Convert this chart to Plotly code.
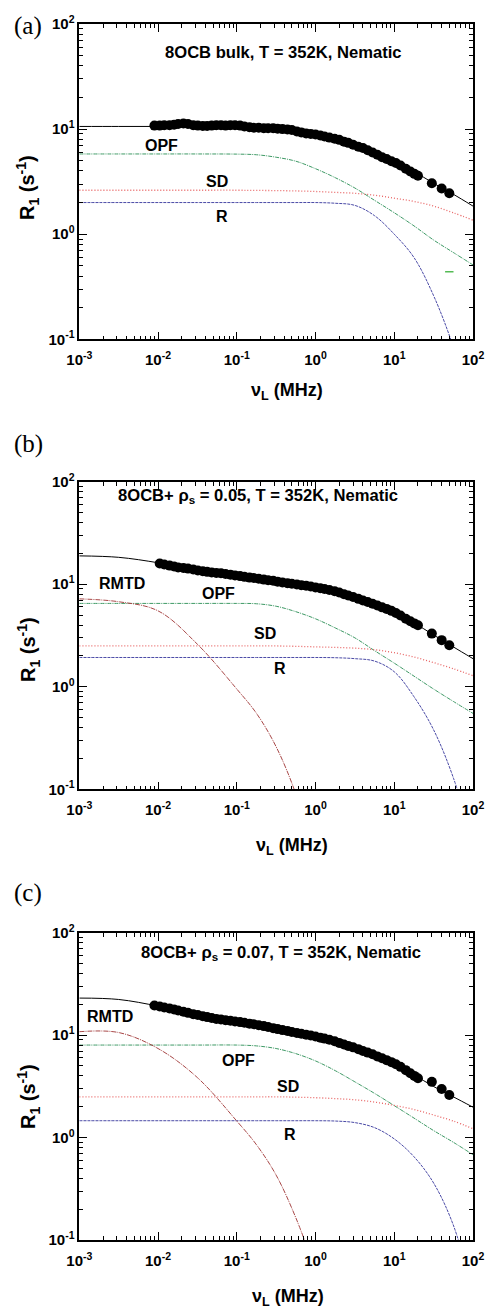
import plotly.graph_objects as go

W, H = 486, 1311

# ---------------- data ----------------
freq_dense = [0.009, 0.0105, 0.012, 0.014, 0.016, 0.018, 0.021, 0.024, 0.028, 0.032,
              0.037, 0.042, 0.048, 0.055, 0.063, 0.072, 0.083, 0.095, 0.11, 0.125,
              0.145, 0.165, 0.19, 0.22, 0.25, 0.29, 0.33, 0.38, 0.44, 0.5,
              0.58, 0.66, 0.76, 0.87, 1.0, 1.15, 1.3, 1.5, 1.75, 2.0,
              2.3, 2.6, 3.0, 3.5, 4.0, 4.6, 5.3, 6.1, 7.0, 8.0,
              9.2, 10.5, 12, 14, 16, 18, 20, 30, 40, 50]

r1_a = [10.8, 10.8, 10.9, 10.9, 11.0, 11.2, 11.3, 11.2, 10.9, 10.8,
        10.7, 10.7, 10.8, 10.9, 10.9, 10.8, 10.9, 10.9, 10.8, 10.6,
        10.4, 10.3, 10.3, 10.2, 10.2, 10.2, 10.1, 10.0, 9.9, 9.8,
        9.5, 9.3, 9.1, 9.0, 8.9, 8.7, 8.5, 8.3, 8.1, 7.9,
        7.6, 7.4, 7.1, 6.8, 6.6, 6.3, 6.0, 5.7, 5.4, 5.2,
        4.95, 4.75, 4.5, 4.2, 3.95, 3.75, 3.6, 3.05, 2.72, 2.45]

freq_b = freq_dense[1:]
r1_b = [15.9, 15.6, 15.2, 14.9, 14.6, 14.4, 14.2, 13.9, 13.6,
        13.4, 13.2, 13.0, 12.9, 12.8, 12.6, 12.4, 12.2, 12.0, 11.8,
        11.6, 11.5, 11.3, 11.1, 10.95, 10.8, 10.6, 10.4, 10.25, 10.1,
        9.95, 9.8, 9.65, 9.5, 9.3, 9.15, 9.0, 8.8, 8.55, 8.3,
        8.0, 7.75, 7.5, 7.2, 6.95, 6.7, 6.45, 6.2, 5.95, 5.75,
        5.5, 5.25, 4.95, 4.6, 4.35, 4.15, 3.98, 3.3, 2.85, 2.54]

r1_c = [19.5, 19.0, 18.6, 18.2, 17.8, 17.4, 16.9, 16.5, 16.0, 15.7,
        15.3, 15.0, 14.7, 14.4, 14.2, 14.0, 13.8, 13.6, 13.4, 13.2,
        12.95, 12.75, 12.5, 12.25, 12.0, 11.7, 11.45, 11.2, 11.0, 10.75,
        10.5, 10.3, 10.1, 9.9, 9.7, 9.45, 9.25, 9.0, 8.7, 8.4,
        8.1, 7.85, 7.6, 7.3, 7.0, 6.75, 6.5, 6.2, 5.95, 5.7,
        5.45, 5.2, 4.9, 4.55, 4.25, 4.0, 3.8, 3.5, 2.98, 2.6]

# model curves, values read at these frequencies
curve_freq = [0.001, 0.00316, 0.01, 0.0316, 0.1, 0.178, 0.316, 0.562, 1,
              1.78, 3.16, 5.62, 10, 17.8, 31.6, 56.2, 100]

fit_a = [10.6, 10.6, 10.6, 10.55, 10.45, 10.3, 10.0, 9.5, 8.8, 8.0, 7.0, 5.9, 4.95, 3.95, 3.05, 2.4, 1.85]
opf_a = [5.8, 5.8, 5.8, 5.8, 5.78, 5.7, 5.4, 4.95, 4.2, 3.45, 2.75, 2.1, 1.6, 1.2, 0.88, 0.67, 0.51]
sd_a = [2.62, 2.62, 2.62, 2.62, 2.62, 2.61, 2.6, 2.58, 2.55, 2.5, 2.45, 2.35, 2.2, 2.05, 1.85, 1.6, 1.36]
r_a = [2.0, 2.0, 2.0, 2.0, 2.0, 2.0, 2.0, 2.0, 2.0, 1.97, 1.88, 1.5, 1.0, 0.6, 0.26, 0.085, 0.02]

fit_b = [18.9, 18.3, 16.2, 13.7, 12.2, 11.4, 10.7, 10.0, 9.3, 8.5, 7.4, 6.3, 5.3, 4.2, 3.2, 2.45, 1.88]
rmtd_b = [7.2, 6.75, 5.5, 2.6, 0.95, 0.55, 0.26, 0.09, 0.02]
opf_b = [6.5, 6.5, 6.5, 6.5, 6.5, 6.45, 6.1, 5.4, 4.6, 3.75, 3.0, 2.25, 1.7, 1.27, 0.95, 0.72, 0.55]
sd_b = [2.5, 2.5, 2.5, 2.5, 2.5, 2.5, 2.5, 2.48, 2.45, 2.42, 2.38, 2.3, 2.15, 1.95, 1.72, 1.5, 1.28]
r_b = [1.93, 1.93, 1.93, 1.93, 1.93, 1.93, 1.93, 1.93, 1.93, 1.92, 1.88, 1.78, 1.4, 0.8, 0.38, 0.13, 0.03]

fit_c = [23.0, 22.3, 19.2, 15.8, 13.5, 12.6, 11.6, 10.6, 9.7, 8.7, 7.5, 6.4, 5.3, 4.1, 3.15, 2.5, 1.98]
rmtd_c = [10.8, 10.6, 7.4, 3.85, 1.45, 0.85, 0.43, 0.165, 0.05]
opf_c = [8.0, 8.0, 8.0, 8.0, 8.0, 7.85, 7.4, 6.6, 5.6, 4.5, 3.5, 2.7, 2.05, 1.55, 1.17, 0.9, 0.68]
sd_c = [2.5, 2.5, 2.5, 2.5, 2.5, 2.5, 2.5, 2.48, 2.45, 2.4, 2.34, 2.22, 2.06, 1.88, 1.66, 1.45, 1.22]
r_c = [1.46, 1.46, 1.46, 1.46, 1.46, 1.46, 1.46, 1.46, 1.46, 1.45, 1.4, 1.25, 0.97, 0.65, 0.36, 0.14, 0.03]

stray_x = [50]
stray_y = [0.44]

titles = ["8OCB bulk, T = 352K, Nematic",
          "8OCB+ ρ<sub>s</sub> = 0.05, T = 352K, Nematic",
          "8OCB+ ρ<sub>s</sub> = 0.07, T = 352K, Nematic"]
panel_tags = ["(a)", "(b)", "(c)"]
x_ticks = [1e-3, 1e-2, 1e-1, 1e0, 1e1, 1e2]
x_ticktext = ["10<sup>-3</sup>", "10<sup>-2</sup>", "10<sup>-1</sup>", "10<sup>0</sup>", "10<sup>1</sup>", "10<sup>2</sup>"]
y_ticks = [1e-1, 1e0, 1e1, 1e2]
y_ticktext = ["10<sup>-1</sup>", "10<sup>0</sup>", "10<sup>1</sup>", "10<sup>2</sup>"]

# ---------------- layout geometry (pixels) ----------------
X_L, X_R = 79.3, 473.0
panel_box = [(24.0, 339.3), (481.7, 789.3), (932.7, 1240.0)]


def px(x):
    return x / W


def py(y):
    return 1 - y / H


C_OPF = "#3f9a66"
C_SD = "#e86464"
C_R = "#4a4aa6"
C_RMTD = "#a84848"

fig = go.Figure()

panels = [
    dict(f=freq_dense, r=r1_a, fit=fit_a, opf=opf_a, sd=sd_a, rr=r_a, rmtd=None),
    dict(f=freq_b, r=r1_b, fit=fit_b, opf=opf_b, sd=sd_b, rr=r_b, rmtd=rmtd_b),
    dict(f=freq_dense, r=r1_c, fit=fit_c, opf=opf_c, sd=sd_c, rr=r_c, rmtd=rmtd_c),
]

for i, p in enumerate(panels):
    xa = "x" if i == 0 else f"x{i+1}"
    ya = "y" if i == 0 else f"y{i+1}"
    kw = dict(xaxis=xa, yaxis=ya, showlegend=False, hoverinfo="skip")
    fig.add_trace(go.Scatter(x=curve_freq, y=p["opf"], mode="lines", line=dict(color=C_OPF, width=1, dash="4px,1px,1px,1px", shape="spline"), **kw))
    fig.add_trace(go.Scatter(x=curve_freq, y=p["sd"], mode="lines", line=dict(color=C_SD, width=1.3, dash="1px,2px", shape="spline"), **kw))
    fig.add_trace(go.Scatter(x=curve_freq, y=p["rr"], mode="lines", line=dict(color=C_R, width=1, dash="3px,1px", shape="spline"), **kw))
    if p["rmtd"] is not None:
        fig.add_trace(go.Scatter(x=curve_freq[:len(p["rmtd"])], y=p["rmtd"], mode="lines", line=dict(color=C_RMTD, width=1, dash="5px,1px,1px,1px", shape="spline"), **kw))
    fig.add_trace(go.Scatter(x=curve_freq, y=p["fit"], mode="lines", line=dict(color="black", width=1, shape="spline"), **kw))
    fig.add_trace(go.Scatter(x=p["f"], y=p["r"], mode="markers", marker=dict(color="black", size=10, line=dict(width=0)), **kw))
    if i == 0:
        fig.add_trace(go.Scatter(x=stray_x, y=stray_y, mode="markers", marker=dict(symbol="line-ew", size=6, line=dict(color="#55bb55", width=1.5)), **kw))

minor_x = [m * 10 ** e for e in range(-3, 2) for m in range(2, 10)]
minor_y = [m * 10 ** e for e in range(-1, 2) for m in range(2, 10)]

tickfont = dict(family="Liberation Sans", size=15, color="black", weight="bold")

for i, (top, bot) in enumerate(panel_box):
    sx = "" if i == 0 else str(i + 1)
    fig.layout[f"xaxis{sx}"] = dict(
        type="log", range=[-3, 2], domain=[px(X_L), px(X_R)], anchor=f"y{sx}",
        tickvals=x_ticks, ticktext=x_ticktext, ticks="inside", ticklen=8, tickwidth=1.3,
        tickcolor="black", showline=True, linecolor="black", linewidth=1.6, mirror="allticks",
        showgrid=False, zeroline=False, tickfont=tickfont, automargin=False, ticklabelstandoff=6,
        minor=dict(tickvals=minor_x, ticks="inside", ticklen=4, tickwidth=1, tickcolor="black", showgrid=False),
    )
    fig.layout[f"yaxis{sx}"] = dict(
        type="log", range=[-1, 2], domain=[py(bot), py(top)], anchor=f"x{sx}",
        tickvals=y_ticks, ticktext=y_ticktext, ticks="inside", ticklen=8, tickwidth=1.3,
        tickcolor="black", showline=True, linecolor="black", linewidth=1.6, mirror="allticks",
        showgrid=False, zeroline=False, tickfont=tickfont, automargin=False,
        minor=dict(tickvals=minor_y, ticks="inside", ticklen=4, tickwidth=1, tickcolor="black", showgrid=False),
    )

ann = []
bold = dict(family="Liberation Sans", size=16, color="black", weight="bold")
title_font = dict(family="Liberation Sans", size=16.6, color="black", weight="bold")


def add_text(text, x, y, font, **extra):
    ann.append(dict(text=text, x=px(x), y=py(y), xref="paper", yref="paper", showarrow=False,
                    xanchor="center", yanchor="middle", font=font, **extra))


# in-plot titles
add_text(titles[0], 283, 53, title_font)
add_text(titles[1], 258, 496, title_font)
add_text(titles[2], 281, 953, title_font)

# curve labels
labels = [
    [("OPF", 161.7, 145.7), ("SD", 216.7, 181.7), ("R", 222.3, 216.7)],
    [("RMTD", 121.7, 583.3), ("OPF", 218.3, 593.3), ("SD", 265, 633.3), ("R", 280, 668.3)],
    [("RMTD", 110, 1016.7), ("OPF", 238.3, 1060), ("SD", 288.3, 1086), ("R", 290, 1134)],
]
for grp in labels:
    for t, x, y in grp:
        add_text(t, x, y, bold)

# panel tags
tagfont = dict(family="Liberation Serif", size=25, color="black")
for t, y in zip(panel_tags, [26, 443.5, 893]):
    add_text(t, 28, y, tagfont)

# axis titles
axfont = dict(family="Liberation Sans", size=18, color="black", weight="bold")
for xc, yc in [(287, 392), (292, 846), (288, 1297)]:
    add_text("ν<sub>L</sub> (MHz)", xc, yc, axfont)
yfont = dict(family="Liberation Sans", size=20, color="black", weight="bold")
for yc in [188, 650, 1097]:
    add_text("R<sub>1</sub> (s<sup>-1</sup>)", 28, yc, yfont, textangle=-90)

fig.update_layout(
    width=W, height=H, margin=dict(l=0, r=0, t=0, b=0),
    paper_bgcolor="white", plot_bgcolor="white", annotations=ann,
)

fig.write_html("out.html", config={"displayModeBar": False},
               post_script="document.body.style.margin='0';document.body.style.overflow='hidden';")
